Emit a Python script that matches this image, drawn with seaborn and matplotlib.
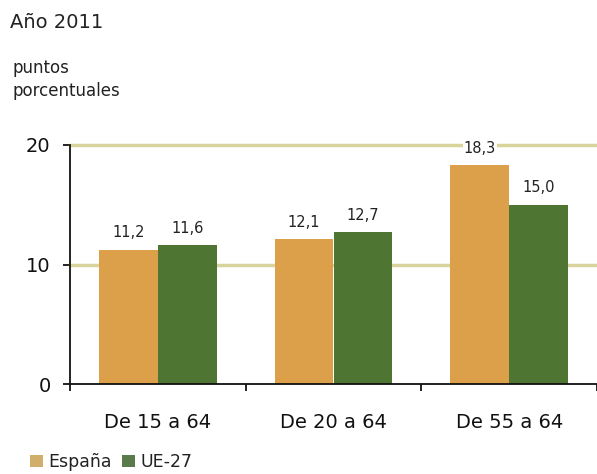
import matplotlib
matplotlib.use("Agg")
import matplotlib.pyplot as plt
from matplotlib.patches import Patch
import pandas as pd
import seaborn as sns

# Data
grupos = ["De 15 a 64", "De 20 a 64", "De 55 a 64"]
series = ["España", "UE-27"]
espana = [11.2, 12.1, 18.3]
ue27 = [11.6, 12.7, 15.0]
yticks = [0, 10, 20]

colores = {"España": "#DCA04A", "UE-27": "#4E7632"}
colores_leyenda = {"España": "#D2AE6C", "UE-27": "#5B7A4C"}

df = pd.DataFrame({
    "grupo": grupos * 2,
    "serie": [series[0]] * 3 + [series[1]] * 3,
    "valor": espana + ue27,
})

sns.set_theme(style="white")
plt.rcParams["font.family"] = ["DejaVu Sans"]

fig = plt.figure(figsize=(5.97, 4.74), dpi=100)
ax = fig.add_axes([70 / 597, 90 / 474, 527 / 597, 239 / 474])

sns.barplot(data=df, x="grupo", y="valor", hue="serie", order=grupos,
            hue_order=series, palette=colores, saturation=1, width=0.67,
            linewidth=0, edgecolor="none", legend=False, ax=ax, zorder=3)

for cont in ax.containers:
    ax.bar_label(cont, labels=[f"{v:.1f}".replace(".", ",") for v in cont.datavalues],
                 padding=7, fontsize=10.5, color="#222222", clip_on=False,
                 zorder=5,
                 bbox=dict(facecolor="white", edgecolor="none", pad=0.5))

# Horizontal reference lines
for y in yticks[1:]:
    ax.axhline(y, color="#D8D49C", lw=2.5, zorder=1, clip_on=False)

ax.set_xlim(-0.5, 2.5)
ax.set_ylim(0, 20)
ax.set_yticks(yticks)
ax.set_yticklabels([str(t) for t in yticks])
ax.set_xlabel("")
ax.set_ylabel("")

for s in ["top", "right"]:
    ax.spines[s].set_visible(False)
for s in ["left", "bottom"]:
    ax.spines[s].set_color("#111111")
    ax.spines[s].set_linewidth(1.3)
    ax.spines[s].set_zorder(4)

ax.tick_params(axis="y", left=True, length=5, width=1.3, color="#111111",
               pad=9, labelsize=14, labelcolor="#111111")
ax.tick_params(axis="x", which="major", length=0, pad=21, labelsize=14,
               labelcolor="#111111")
ax.set_xticks([-0.5, 0.5, 1.5, 2.5], minor=True)
ax.tick_params(axis="x", which="minor", bottom=True, length=5, width=1.3,
               color="#111111")

fig.text(10 / 597, 1 - 22 / 474, "Año 2011", fontsize=14, color="#222222",
         ha="left", va="center")
fig.text(12 / 597, 1 - 73 / 474, "puntos", fontsize=12, color="#222222",
         ha="left", va="baseline")
fig.text(12 / 597, 1 - 96 / 474, "porcentuales", fontsize=12, color="#222222",
         ha="left", va="baseline")

handles = [Patch(facecolor=colores_leyenda[s], edgecolor="none") for s in series]
fig.legend(handles, series, loc="center left",
           bbox_to_anchor=(30 / 597, 1 - 462 / 474), ncol=2, frameon=False,
           handlelength=0.75, handleheight=0.75, handletextpad=0.3,
           columnspacing=0.6, borderpad=0, borderaxespad=0, fontsize=12.5,
           labelcolor="#222222")

fig.savefig("out.png", dpi=100, facecolor="white")
